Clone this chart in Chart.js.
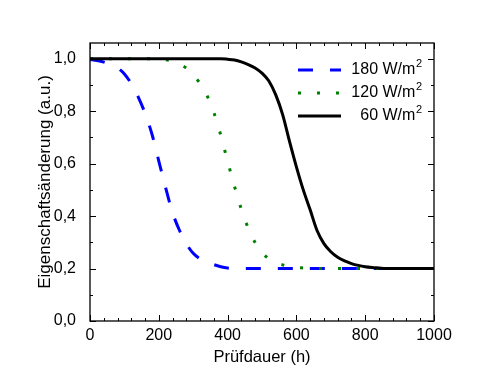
<!DOCTYPE html>
<html><head><meta charset="utf-8">
<script src="https://cdn.jsdelivr.net/npm/chart.js@4.4.1/dist/chart.umd.min.js"></script>
<style>html,body{margin:0;padding:0;background:#fff}canvas{display:block}</style>
</head><body>
<canvas id="c" width="504" height="385"></canvas>
<script>
const hours = [0,20,40,60,80,100,120,140,160,180,200,220,240,260,280,300,320,340,360,380,400,420,440,460,480,500,520,540,560,580,600,620,640,660,680,700,720,740,760,780,800,820,840,860,880,900,920,940,960,980,1000];
const w180 = [0.997,0.993,0.987,0.978,0.965,0.942,0.905,0.855,0.792,0.713,0.61,0.508,0.413,0.346,0.295,0.258,0.237,0.224,0.215,0.207,0.202,0.201,
  0.2,0.2,0.2,0.2,0.2,0.2,0.2,0.2,0.2,0.2,0.2,0.2,0.2,0.2,0.2,0.2,0.2,0.2,0.2,0.2,0.2,0.2,0.2,0.2,0.2,0.2,0.2,0.2,0.2];
const w120 = [1,1,1,1,1,1,1,1,1,1,0.999,0.996,0.99,0.98,0.964,0.94,0.905,0.86,0.795,0.709,0.609,0.514,0.426,0.354,0.299,0.26,0.238,0.223,0.214,0.208,0.204,0.202,
  0.2,0.2,0.2,0.2,0.2,0.2,0.2,0.2,0.2,0.2,0.2,0.2,0.2,0.2,0.2,0.2,0.2,0.2,0.2];
const w60 = [1,1,1,1,1,1,1,1,1,1,1,1,1,1,1,1,1,1,1,1,0.998,0.995,0.988,0.978,0.965,0.945,0.915,0.862,0.787,0.685,0.588,0.5,0.424,0.345,0.295,0.264,0.243,0.229,0.219,0.212,0.207,0.204,0.202,
  0.2,0.2,0.2,0.2,0.2,0.2,0.2,0.2];
const seriesNames = ['180 W/m', '120 W/m', '60 W/m'];
const xTicks = [0,200,400,600,800,1000];
const yTicks = [0,0.2,0.4,0.6,0.8,1.0];
const xTitle = 'Prüfdauer (h)';
const yTitle = 'Eigenschaftsänderung (a.u.)';

const FONT = '"Liberation Sans", Arial, sans-serif';
const colors = ['#0000ff', '#008000', '#000000'];
const dashes = [[15,17],[3,16],[]];

const pts = arr => arr.map((v,i)=>({x:hours[i], y:v}));

const framePlugin = {
  id:'frame',
  afterDraw(chart){
    const ctx = chart.ctx, a = chart.chartArea, xs = chart.scales.x, ys = chart.scales.y;
    ctx.save();
    ctx.strokeStyle = '#000'; ctx.lineWidth = 1.3;
    ctx.strokeRect(a.left, a.top, a.right-a.left, a.bottom-a.top);
    ctx.lineWidth = 1;
    for (let v=0; v<=1000; v+=40){
      const px = Math.round(xs.getPixelForValue(v))+0.5;
      const len = (v%200===0)?6:3;
      ctx.beginPath();
      ctx.moveTo(px,a.bottom); ctx.lineTo(px,a.bottom-len);
      ctx.moveTo(px,a.top); ctx.lineTo(px,a.top+len);
      ctx.stroke();
    }
    for (let k=0; k<=10; k++){
      const v = k/10;
      const py = Math.round(ys.getPixelForValue(v))+0.5;
      const len = (k%2===0)?6:3;
      ctx.beginPath();
      ctx.moveTo(a.left,py); ctx.lineTo(a.left+len,py);
      ctx.moveTo(a.right,py); ctx.lineTo(a.right-len,py);
      ctx.stroke();
    }
    ctx.fillStyle = '#000';
    ctx.textAlign = 'center'; ctx.textBaseline = 'middle';
    ctx.font = '16.5px ' + FONT;
    ctx.fillText(xTitle, (a.left+a.right)/2, 357);
    ctx.save();
    ctx.font = '17px ' + FONT;
    ctx.translate(45, (a.top+a.bottom)/2);
    ctx.rotate(-Math.PI/2);
    ctx.fillText(yTitle, 0, 0);
    ctx.restore();
    const ly = [70, 93, 116];
    chart.data.datasets.forEach((ds,i)=>{
      ctx.save();
      ctx.strokeStyle = ds.borderColor; ctx.lineWidth = 3;
      ctx.setLineDash(ds.borderDash || []);
      ctx.beginPath(); ctx.moveTo(298, ly[i]); ctx.lineTo(341, ly[i]); ctx.stroke();
      ctx.restore();
      ctx.font = '11px ' + FONT;
      ctx.textAlign = 'right'; ctx.textBaseline = 'middle';
      const supW = ctx.measureText('2').width;
      ctx.fillText('2', 422, ly[i]-6);
      ctx.font = '16px ' + FONT;
      ctx.fillText(seriesNames[i], 422 - supW - 0.5, ly[i]);
    });
    ctx.restore();
  }
};

new Chart(document.getElementById('c'), {
  type:'line',
  data:{
    datasets:[
      {label:seriesNames[0]+'2', data:pts(w180), borderColor:colors[0], borderWidth:3, borderDash:dashes[0], order:2},
      {label:seriesNames[1]+'2', data:pts(w120), borderColor:colors[1], borderWidth:3, borderDash:dashes[1], order:1},
      {label:seriesNames[2]+'2', data:pts(w60), borderColor:colors[2], borderWidth:3, borderDash:dashes[2], order:0}
    ]
  },
  options:{
    responsive:false, animation:false, devicePixelRatio:1,
    layout:{padding:{left:0, top:43, right:70, bottom:0}},
    elements:{point:{radius:0}, line:{cubicInterpolationMode:'monotone', fill:false}},
    plugins:{legend:{display:false}, tooltip:{enabled:false}},
    scales:{
      x:{type:'linear', min:0, max:1000,
        grid:{display:false}, border:{display:false},
        ticks:{color:'#000', font:{family:FONT, size:16}, padding:-3, maxRotation:0,
          callback:v=>String(v)},
        afterBuildTicks(s){ s.ticks = xTicks.map(v=>({value:v})); },
        afterFit(s){ s.height = 64; }
      },
      y:{type:'linear', min:0, max:1.06,
        grid:{display:false}, border:{display:false},
        ticks:{color:'#000', font:{family:FONT, size:16}, padding:6,
          callback:v=>v.toFixed(1).replace('.',',')},
        afterBuildTicks(s){ s.ticks = yTicks.map(v=>({value:v})); },
        afterFit(s){ s.width = 90; }
      }
    }
  },
  plugins:[framePlugin]
});
</script>
</body></html>
